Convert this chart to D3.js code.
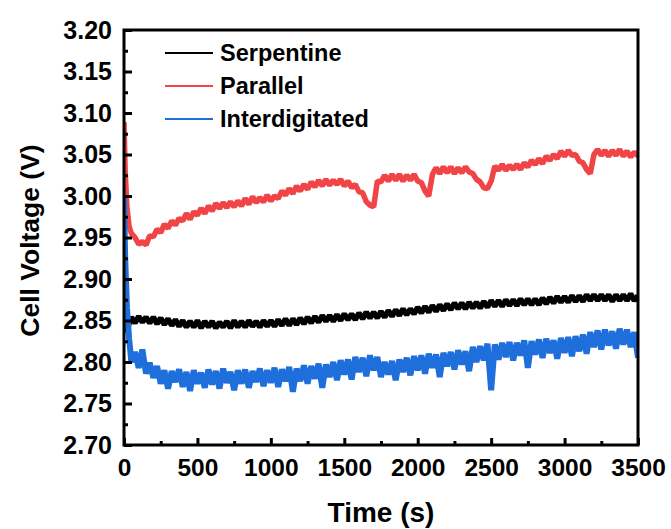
<!DOCTYPE html>
<html>
<head>
<meta charset="utf-8">
<script src="https://cdn.jsdelivr.net/npm/d3@7"></script>
<style>
  body { margin: 0; background: #fff; }
  svg text { font-family: "Liberation Sans", Arial, sans-serif; font-weight: bold; fill: #000; }
</style>
</head>
<body>
<div id="chart"></div>
<script>
// time grid (s): a few early samples, then every 25 s
const time = [0, 8, 20, 35].concat(d3.range(50, 3501, 25));

const seriesNames = ['Serpentine', 'Parallel', 'Interdigitated'];
const seriesColors = ['#000000', '#F14446', '#1E6FDB'];

// Cell voltage (V)
const serpentine = [
  2.866, 2.848, 2.836, 2.847,
  2.854, 2.847, 2.855, 2.848, 2.854, 2.847,
  2.854, 2.846, 2.853, 2.845, 2.852, 2.844, 2.851, 2.843,
  2.850, 2.842, 2.849, 2.842, 2.850, 2.841, 2.849, 2.842,
  2.849, 2.841, 2.848, 2.842, 2.849, 2.841, 2.850, 2.842,
  2.849, 2.842, 2.850, 2.843, 2.849, 2.842, 2.850, 2.843,
  2.850, 2.843, 2.851, 2.844, 2.852, 2.844, 2.852, 2.845,
  2.853, 2.846, 2.854, 2.847, 2.855, 2.848, 2.856, 2.849,
  2.856, 2.849, 2.857, 2.850, 2.858, 2.851, 2.858, 2.851,
  2.859, 2.852, 2.860, 2.853, 2.860, 2.853, 2.861, 2.854,
  2.862, 2.855, 2.863, 2.856, 2.864, 2.857, 2.864, 2.858,
  2.866, 2.859, 2.867, 2.860, 2.868, 2.861, 2.869, 2.862,
  2.870, 2.863, 2.871, 2.864, 2.871, 2.864, 2.872, 2.865,
  2.872, 2.865, 2.873, 2.866, 2.874, 2.867, 2.874, 2.867,
  2.875, 2.868, 2.875, 2.868, 2.876, 2.869, 2.876, 2.869,
  2.876, 2.869, 2.877, 2.870, 2.878, 2.871, 2.879, 2.872,
  2.879, 2.872, 2.880, 2.873, 2.880, 2.873, 2.881, 2.874,
  2.881, 2.874, 2.881, 2.874, 2.881, 2.873, 2.881, 2.874,
  2.881, 2.874, 2.882, 2.874, 2.880
];

const parallel = [
  3.089, 3.030, 2.986, 2.963,
  2.955, 2.950, 2.942, 2.945, 2.941, 2.952,
  2.951, 2.960, 2.956, 2.966, 2.961, 2.970, 2.965, 2.973,
  2.970, 2.979, 2.972, 2.981, 2.977, 2.985, 2.979, 2.988,
  2.982, 2.991, 2.985, 2.992, 2.986, 2.993, 2.987, 2.994,
  2.988, 2.997, 2.990, 2.999, 2.992, 2.998, 2.993, 3.001,
  2.994, 3.000, 2.997, 3.006, 3.001, 3.009, 3.003, 3.012,
  3.006, 3.014, 3.008, 3.017, 3.011, 3.019, 3.012, 3.020,
  3.013, 3.019, 3.014, 3.020, 3.012, 3.018, 3.010, 3.014,
  3.005, 3.004, 2.993, 2.989, 2.987, 3.018, 3.017, 3.025,
  3.018, 3.026, 3.019, 3.026, 3.018, 3.025, 3.019, 3.026,
  3.018, 3.016, 3.006, 3.000, 3.026, 3.034, 3.027, 3.035,
  3.028, 3.035, 3.027, 3.034, 3.028, 3.035, 3.029, 3.027,
  3.020, 3.017, 3.010, 3.009, 3.018, 3.036, 3.031, 3.038,
  3.031, 3.037, 3.032, 3.038, 3.032, 3.040, 3.035, 3.043,
  3.038, 3.045, 3.039, 3.048, 3.043, 3.050, 3.045, 3.054,
  3.048, 3.055, 3.049, 3.050, 3.042, 3.040, 3.032, 3.027,
  3.050, 3.056, 3.049, 3.055, 3.048, 3.055, 3.049, 3.056,
  3.048, 3.054, 3.047, 3.053, 3.048
];

const interdigitated = [
  2.999, 2.925, 2.866, 2.828,
  2.800, 2.812, 2.793, 2.815, 2.786, 2.799,
  2.781, 2.795, 2.774, 2.790, 2.768, 2.789, 2.776, 2.791,
  2.770, 2.788, 2.765, 2.790, 2.774, 2.787, 2.769, 2.791,
  2.773, 2.789, 2.768, 2.792, 2.775, 2.788, 2.766, 2.790,
  2.774, 2.791, 2.769, 2.789, 2.776, 2.792, 2.771, 2.790,
  2.775, 2.793, 2.770, 2.791, 2.777, 2.794, 2.764, 2.792,
  2.777, 2.796, 2.774, 2.795, 2.780, 2.798, 2.769, 2.797,
  2.782, 2.800, 2.778, 2.802, 2.785, 2.803, 2.779, 2.806,
  2.788, 2.805, 2.783, 2.808, 2.790, 2.806, 2.782, 2.800,
  2.785, 2.801, 2.778, 2.803, 2.788, 2.805, 2.784, 2.807,
  2.790, 2.808, 2.786, 2.810, 2.793, 2.809, 2.782, 2.811,
  2.795, 2.812, 2.791, 2.814, 2.797, 2.813, 2.789, 2.818,
  2.800, 2.819, 2.802, 2.822, 2.766, 2.821, 2.803, 2.823,
  2.806, 2.824, 2.802, 2.823, 2.808, 2.826, 2.793, 2.825,
  2.809, 2.827, 2.805, 2.828, 2.811, 2.826, 2.804, 2.829,
  2.811, 2.830, 2.807, 2.831, 2.813, 2.833, 2.810, 2.836,
  2.818, 2.838, 2.815, 2.839, 2.820, 2.837, 2.816, 2.840,
  2.821, 2.839, 2.818, 2.836, 2.805
];

const xTicks = [0, 500, 1000, 1500, 2000, 2500, 3000, 3500];
const yTicks = [2.70, 2.75, 2.80, 2.85, 2.90, 2.95, 3.00, 3.05, 3.10, 3.15, 3.20];

const W = 671, H = 529;
const margin = { top: 30, right: 33, bottom: 84, left: 124 };
const iw = W - margin.left - margin.right;
const ih = H - margin.top - margin.bottom;

const svg = d3.select('#chart').append('svg')
    .attr('width', W)
    .attr('height', H);

const g = svg.append('g')
    .attr('transform', `translate(${margin.left},${margin.top})`);

const x = d3.scaleLinear().domain([0, 3500]).range([0, iw]);
const y = d3.scaleLinear().domain([2.70, 3.20]).range([ih, 0]);

svg.append('defs').append('clipPath')
    .attr('id', 'plot-clip')
    .append('rect')
    .attr('width', iw)
    .attr('height', ih);

// series lines: a thick stroke so the noisy trace reads as a band
const line = d3.line()
    .x(d => x(d[0]))
    .y(d => y(d[1]));

const allSeries = [serpentine, parallel, interdigitated];
const strokeW = [5.5, 5.5, 6];
const lines = g.append('g').attr('clip-path', 'url(#plot-clip)');
allSeries.forEach((vals, i) => {
    lines.append('path')
        .datum(d3.zip(time, vals))
        .attr('fill', 'none')
        .attr('stroke', seriesColors[i])
        .attr('stroke-width', strokeW[i])
        .attr('stroke-linejoin', 'bevel')
        .attr('d', line);
});

// minor ticks (inside)
g.append('g')
    .attr('transform', `translate(0,${ih})`)
    .call(d3.axisBottom(x).tickValues(d3.range(250, 3500, 500)).tickSize(-4).tickFormat(''))
    .call(a => a.select('.domain').remove())
    .call(a => a.selectAll('line').attr('stroke-width', 3));

g.append('g')
    .call(d3.axisLeft(y).tickValues(d3.range(2.725, 3.2, 0.05)).tickSize(-4).tickFormat(''))
    .call(a => a.select('.domain').remove())
    .call(a => a.selectAll('line').attr('stroke-width', 3));

// major ticks + labels
const xAxis = g.append('g')
    .attr('transform', `translate(0,${ih})`)
    .call(d3.axisBottom(x).tickValues(xTicks).tickSizeInner(-7).tickSizeOuter(0).tickPadding(14).tickFormat(d3.format('d')));
xAxis.select('.domain').remove();
xAxis.selectAll('line').attr('stroke-width', 3);
xAxis.selectAll('text').attr('font-size', 24.5);

const yAxis = g.append('g')
    .call(d3.axisLeft(y).tickValues(yTicks).tickSizeInner(-8).tickSizeOuter(0).tickPadding(12).tickFormat(d3.format('.2f')));
yAxis.select('.domain').remove();
yAxis.selectAll('line').attr('stroke-width', 3);
yAxis.selectAll('text').attr('font-size', 25);

// frame
g.append('rect')
    .attr('width', iw)
    .attr('height', ih)
    .attr('fill', 'none')
    .attr('stroke', '#000')
    .attr('stroke-width', 3);

// axis titles
svg.append('text')
    .attr('x', margin.left + iw / 2)
    .attr('y', 522)
    .attr('text-anchor', 'middle')
    .attr('font-size', 28)
    .text('Time (s)');

svg.append('text')
    .attr('transform', `translate(39,${margin.top + ih / 2 + 3}) rotate(-90)`)
    .attr('text-anchor', 'middle')
    .attr('font-size', 26.5)
    .text('Cell Voltage (V)');

// legend
const legend = g.append('g').attr('transform', 'translate(41,23)');
seriesNames.forEach((name, i) => {
    const row = legend.append('g').attr('transform', `translate(0,${i * 33})`);
    row.append('line')
        .attr('x1', 0).attr('x2', 48)
        .attr('stroke', seriesColors[i])
        .attr('stroke-width', 2);
    row.append('text')
        .attr('x', 55)
        .attr('dy', '0.35em')
        .attr('font-size', 23.5)
        .text(name);
});
</script>
</body>
</html>
